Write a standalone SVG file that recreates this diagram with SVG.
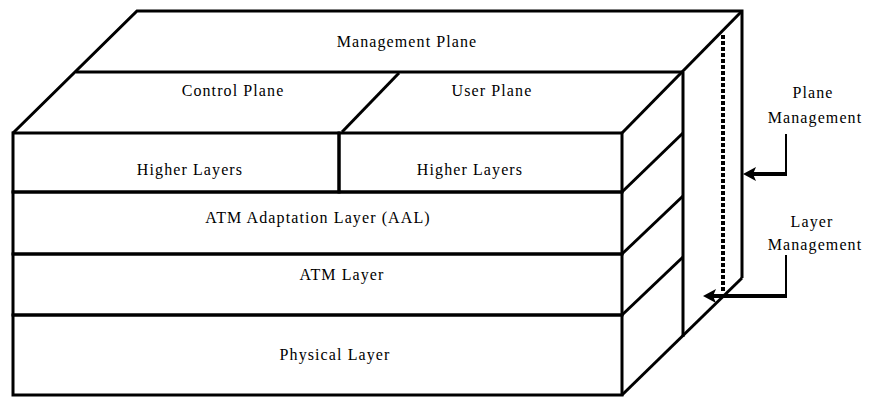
<svg xmlns="http://www.w3.org/2000/svg" width="877" height="397" viewBox="0 0 877 397">
<style>
.o{fill:none;stroke:#000;stroke-width:3;stroke-linejoin:miter}
.t{font-family:"Liberation Serif","Times New Roman",serif;font-size:16px;letter-spacing:1.1px;fill:#000;text-anchor:middle}
.v{fill:none;stroke:#000;stroke-width:2}
.h{fill:none;stroke:#000;stroke-width:4}
.hd{fill:#000}
</style>
<rect width="877" height="397" fill="#fff"/>
<g id="management-plane">
<path class="o" d="M13,133 L137,11 L742,11 L742,278"/>
<path class="o" d="M76,72 L683,72"/>
<text class="t" x="407" y="47">Management Plane</text>
</g>
<g id="control-plane">
<path class="o" d="M399,73 L342,132"/>
<text class="t" x="233" y="96">Control Plane</text>
</g>
<g id="user-plane">
<path class="o" d="M742,11 L622,133"/>
<path class="o" d="M683,72 L683,337"/>
<text class="t" x="492" y="96">User Plane</text>
</g>
<g id="higher-layers-1">
<rect class="o" x="13" y="133" width="326" height="59"/>
<text class="t" x="190" y="175">Higher Layers</text>
</g>
<g id="higher-layers-2">
<rect class="o" x="339" y="133" width="283" height="59"/>
<path class="o" d="M622,192 L683,133"/>
<text class="t" x="470" y="175">Higher Layers</text>
</g>
<g id="aal">
<rect class="o" x="13" y="192" width="609" height="62"/>
<path class="o" d="M622,254 L683,196"/>
<text class="t" x="318" y="223">ATM Adaptation Layer (AAL)</text>
</g>
<g id="atm-layer">
<rect class="o" x="13" y="254" width="609" height="61"/>
<path class="o" d="M622,315 L683,257"/>
<text class="t" x="342" y="280">ATM Layer</text>
</g>
<g id="physical-layer">
<rect class="o" x="13" y="315" width="609" height="80"/>
<path class="o" d="M622,395 L742,278"/>
<text class="t" x="335" y="360">Physical Layer</text>
</g>
<g id="plane-management-label">
<text class="t" x="813" y="98">Plane</text>
<text class="t" x="815" y="123">Management</text>
</g>
<g id="layer-management-label">
<text class="t" x="812" y="227">Layer</text>
<text class="t" x="815" y="250">Management</text>
</g>
<g id="connectors">
<path d="M723,35 L723,292" fill="none" stroke="#000" stroke-width="4" stroke-dasharray="4,2"/>
<path class="v" d="M786,134 L786,174"/>
<path class="h" d="M787,174 L752,174"/>
<path class="hd" d="M743,174 L756,167 L753,174 L756,181 z"/>
<path class="v" d="M786,255 L786,296"/>
<path class="h" d="M787,296 L712,296"/>
<path class="hd" d="M703,296 L716,289 L713,296 L716,303 z"/>
</g>
</svg>
